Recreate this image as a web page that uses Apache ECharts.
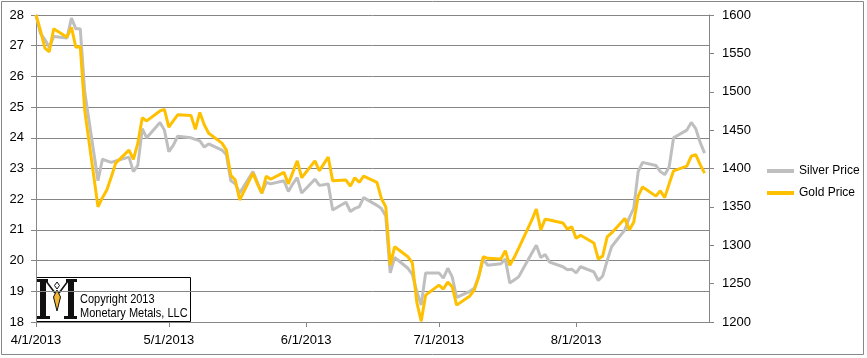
<!DOCTYPE html>
<html>
<head>
<meta charset="utf-8">
<script src="https://cdn.jsdelivr.net/npm/echarts@6/dist/echarts.min.js"></script>
<style>
html,body{margin:0;padding:0;background:#fff;}
#chart{width:867px;height:358px;}
</style>
</head>
<body>
<div id="chart"></div>
<script>
// Trading days, April 1 - August 30, 2013
var dates = [
 '2013-04-01','2013-04-02','2013-04-03','2013-04-04','2013-04-05','2013-04-08','2013-04-09','2013-04-10','2013-04-11','2013-04-12',
 '2013-04-15','2013-04-16','2013-04-17','2013-04-18','2013-04-19','2013-04-22','2013-04-23','2013-04-24','2013-04-25','2013-04-26',
 '2013-04-29','2013-04-30',
 '2013-05-01','2013-05-02','2013-05-03','2013-05-06','2013-05-07','2013-05-08','2013-05-09','2013-05-10','2013-05-13','2013-05-14',
 '2013-05-15','2013-05-16','2013-05-17','2013-05-20','2013-05-21','2013-05-22','2013-05-23','2013-05-24','2013-05-27','2013-05-28',
 '2013-05-29','2013-05-30','2013-05-31',
 '2013-06-03','2013-06-04','2013-06-05','2013-06-06','2013-06-07','2013-06-10','2013-06-11','2013-06-12','2013-06-13','2013-06-14',
 '2013-06-17','2013-06-18','2013-06-19','2013-06-20','2013-06-21','2013-06-24','2013-06-25','2013-06-26','2013-06-27','2013-06-28',
 '2013-07-01','2013-07-02','2013-07-03','2013-07-04','2013-07-05','2013-07-08','2013-07-09','2013-07-10','2013-07-11','2013-07-12',
 '2013-07-15','2013-07-16','2013-07-17','2013-07-18','2013-07-19','2013-07-22','2013-07-23','2013-07-24','2013-07-25','2013-07-26',
 '2013-07-29','2013-07-30','2013-07-31',
 '2013-08-01','2013-08-02','2013-08-05','2013-08-06','2013-08-07','2013-08-08','2013-08-09','2013-08-12','2013-08-13','2013-08-14',
 '2013-08-15','2013-08-16','2013-08-19','2013-08-20','2013-08-21','2013-08-22','2013-08-23','2013-08-26','2013-08-27','2013-08-28',
 '2013-08-29','2013-08-30'
];

var silverPrice = [
 28.0,27.4,27.2,26.95,27.3,27.25,27.9,27.55,27.55,25.5,22.6,23.3,23.25,23.2,23.25,23.37,22.9,23.1,24.3,24.0,24.5,24.25,
 23.55,23.75,24.05,24.0,23.95,23.9,23.7,23.8,23.6,23.45,22.6,22.5,22.2,22.9,22.55,22.2,22.55,22.5,22.6,22.25,22.5,22.7,22.2,
 22.65,22.45,22.47,22.5,21.65,21.9,21.6,21.7,21.75,22.05,21.8,21.7,21.45,19.6,20.1,19.75,19.55,19.0,18.55,19.6,
 19.6,19.43,19.75,19.47,18.8,19.0,19.1,19.5,20.05,19.85,19.9,20.05,19.27,19.37,19.47,20.25,20.5,20.1,20.2,19.95,19.8,19.7,19.72,
 19.6,19.8,19.63,19.35,19.5,20.0,20.45,21.0,21.4,21.7,22.9,23.2,23.1,22.9,22.8,23.05,24.0,24.25,24.5,24.3,23.85,23.5
];

var goldPrice = [
 1600,1580,1557,1552,1582,1571,1584,1558,1559,1476,1350,1362,1372,1389,1407,1424,1412,1433,1466,1462,1475,1477,
 1454,1462,1470,1469,1451,1473,1457,1446,1433,1424,1391,1385,1359,1394,1380,1368,1390,1386,1395,1380,1395,1410,1388,
 1410,1397,1406,1415,1384,1385,1377,1388,1382,1390,1382,1361,1350,1274,1298,1285,1277,1226,1201,1235,
 1248,1243,1252,1246,1222,1234,1242,1259,1285,1283,1282,1293,1274,1284,1296,1333,1347,1320,1334,1333,1329,1321,1324,
 1309,1313,1303,1282,1286,1311,1316,1335,1320,1330,1364,1376,1364,1371,1362,1380,1397,1403,1416,1418,1405,1394
];

var monthTicks = ['2013-04-01','2013-05-01','2013-06-01','2013-07-01','2013-08-01'];
var axisStart = '2013-04-01', axisEnd = '2013-08-31';
var seriesNames = ['Silver Price','Gold Price'];
var copyrightLines = ['Copyright 2013','Monetary Metals, LLC'];

function ts(s){ var p=s.split('-'); return Date.UTC(+p[0], +p[1]-1, +p[2]); }
var tickTs = monthTicks.map(ts);
var silverData = dates.map(function(d,i){ return [ts(d), silverPrice[i]]; });
var goldData = dates.map(function(d,i){ return [ts(d), goldPrice[i]]; });

var AX = '#868686';
var FONT = 'Liberation Sans, Arial, sans-serif';

var chart = echarts.init(document.getElementById('chart'), null, {renderer:'canvas'});
chart.setOption({
  animation:false,
  backgroundColor:'#fff',
  grid:{left:36, right:158, top:15, bottom:36, containLabel:false},
  legend:{
    orient:'vertical', left:762, top:160, itemWidth:27, itemHeight:4, itemGap:10, icon:'rect',
    textStyle:{fontSize:12, color:'#000', fontFamily:FONT},
    data:seriesNames
  },
  xAxis:{
    type:'value', min:ts(axisStart), max:ts(axisEnd),
    axisLine:{show:true, lineStyle:{color:AX, width:1}},
    axisTick:{show:true, length:5, customValues:tickTs, lineStyle:{color:AX}},
    axisLabel:{customValues:tickTs, margin:12, fontSize:13, color:'#000', fontFamily:FONT,
      formatter:function(v){ var d=new Date(v); return (d.getUTCMonth()+1)+'/'+d.getUTCDate()+'/'+d.getUTCFullYear(); }},
    splitLine:{show:false}
  },
  yAxis:[{
    type:'value', position:'left', min:18, max:28, interval:1,
    axisLine:{show:true, lineStyle:{color:AX, width:1}},
    axisTick:{show:true, length:5, lineStyle:{color:AX}},
    axisLabel:{margin:12, fontSize:13, color:'#000', fontFamily:FONT},
    splitLine:{show:true, lineStyle:{color:AX, width:1}}
  },{
    type:'value', position:'right', min:1200, max:1600, interval:50,
    axisLine:{show:true, lineStyle:{color:AX, width:1}},
    axisTick:{show:true, length:5, lineStyle:{color:AX}},
    axisLabel:{margin:13, fontSize:13, color:'#000', fontFamily:FONT, formatter:function(v){ return String(v); }},
    splitLine:{show:false}
  }],
  series:[{
    name:seriesNames[0], type:'line', yAxisIndex:0, data:silverData, showSymbol:false, symbol:'none',
    lineStyle:{color:'#BFBFBF', width:3}, itemStyle:{color:'#BFBFBF'}, z:2
  },{
    name:seriesNames[1], type:'line', yAxisIndex:1, data:goldData, showSymbol:false, symbol:'none',
    lineStyle:{color:'#FFC000', width:3}, itemStyle:{color:'#FFC000'}, z:3
  }],
  graphic:[
    {type:'rect', shape:{x:1.5, y:1.5, width:862, height:353}, style:{fill:null, stroke:AX, lineWidth:1}, z:0, silent:true},
    {type:'group', z:100, children:[
      {type:'rect', shape:{x:36.5, y:277.5, width:154, height:44}, style:{fill:'#fff', stroke:'#000', lineWidth:1}},
      {type:'rect', shape:{x:40, y:281, width:6, height:36}, style:{fill:'#111'}},
      {type:'rect', shape:{x:37, y:279, width:11, height:3}, style:{fill:'#111'}},
      {type:'rect', shape:{x:37, y:316, width:13, height:3}, style:{fill:'#111'}},
      {type:'rect', shape:{x:68, y:281, width:6, height:36}, style:{fill:'#111'}},
      {type:'rect', shape:{x:66, y:279, width:11, height:3}, style:{fill:'#111'}},
      {type:'rect', shape:{x:64, y:316, width:13, height:3}, style:{fill:'#111'}},
      {type:'polyline', shape:{points:[[46,281],[55,293]]}, style:{stroke:'#111', lineWidth:1.5}},
      {type:'polyline', shape:{points:[[59,293],[68,281]]}, style:{stroke:'#111', lineWidth:1.5}},
      {type:'polygon', shape:{points:[[57,282],[59.5,285.5],[57,289],[54.5,285.5]]}, style:{fill:'#fff', stroke:'#111', lineWidth:1}},
      {type:'polygon', shape:{points:[[57,290],[60.5,297],[57,311],[53.5,297]]}, style:{fill:'#F2B632', stroke:'#111', lineWidth:1}},
      {type:'text', x:80, y:300, scaleX:0.88, style:{text:copyrightLines[0], fontSize:12.5, fontFamily:FONT, fill:'#000', verticalAlign:'middle'}},
      {type:'text', x:80, y:314, scaleX:0.88, style:{text:copyrightLines[1], fontSize:12.5, fontFamily:FONT, fill:'#000', verticalAlign:'middle'}}
    ]}
  ]
});
</script>
</body>
</html>
